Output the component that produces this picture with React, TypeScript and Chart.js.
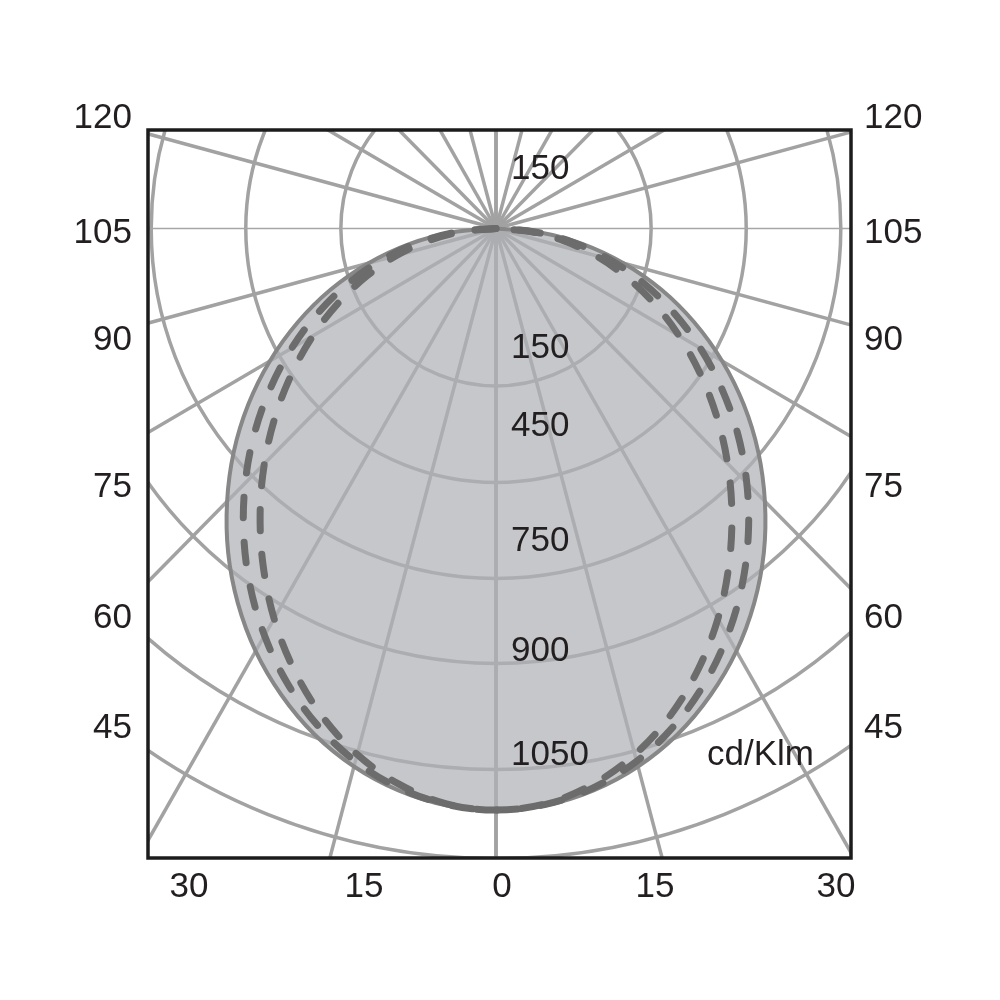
import React, { useEffect, useRef } from "react";
import { Chart, registerables } from "chart.js";

Chart.register(...registerables);

// Polar angles, degrees measured from the downward (0°) direction
const angleDeg = [0, 5, 10, 15, 20, 25, 30, 35, 40, 45, 50, 55, 60, 65, 70, 75, 80, 85, 90];
// Luminous intensity curves (chart units), symmetric left/right
const solidIntensity = [1163, 1158, 1141, 1114, 1077, 1030, 976, 914, 846, 772, 695, 614, 530, 444, 357, 268, 179, 90, 0];
const dashedOuterIntensity = [1163, 1156, 1136, 1103, 1058, 1003, 940, 871, 797, 720, 641, 560, 479, 398, 318, 238, 158, 79, 0];
const dashedInnerIntensity = [1163, 1155, 1129, 1089, 1036, 972, 901, 824, 745, 665, 585, 506, 429, 354, 280, 209, 138, 69, 0];

// Grid
const ringValues = [315, 508, 700, 870, 1082, 1260];
const rayAngles = [0, 15, 30, 45, 60, 75, 90, 105, 120, 135, 150, 165, 180];

// Texts
const ringLabels = ["150", "150", "450", "750", "900", "1050"];
const sideLabels = ["120", "105", "90", "75", "60", "45"];
const bottomLabels = ["30", "15", "0", "15", "30"];
const unitLabel = "cd/Klm";

// Layout (pixels)
const RING_LABEL_X = 511;
const RING_LABEL_BASE = [179, 358, 436, 551, 661, 765];
const SIDE_LABEL_BASE = [128, 243, 350, 497, 628, 738];
const LEFT_LABEL_RIGHT = 132;
const RIGHT_LABEL_LEFT = 864;
const BOTTOM_LABEL_X = [189, 364, 502, 655, 836];
const BOTTOM_LABEL_BASE = 897;
const UNIT_X = 707;
const UNIT_BASE = 765;

const FONT = '35px "Liberation Sans", Arial, sans-serif';
const TEXT_COLOR = "#231f20";

function polarPoints(values: number[]) {
  const pts: { x: number; y: number }[] = [];
  for (let i = values.length - 1; i >= 0; i--) {
    const a = (angleDeg[i] * Math.PI) / 180;
    pts.push({ x: -values[i] * Math.sin(a), y: -values[i] * Math.cos(a) });
  }
  for (let i = 1; i < values.length; i++) {
    const a = (angleDeg[i] * Math.PI) / 180;
    pts.push({ x: values[i] * Math.sin(a), y: -values[i] * Math.cos(a) });
  }
  return pts;
}

const gridPlugin = {
  id: "polarGrid",
  beforeDatasetsDraw(chart: any) {
    const { ctx, chartArea, scales } = chart;
    const xs = scales.x;
    const ys = scales.y;
    const cx = xs.getPixelForValue(0);
    const cy = ys.getPixelForValue(0);
    ctx.save();
    ctx.beginPath();
    ctx.rect(chartArea.left, chartArea.top, chartArea.right - chartArea.left, chartArea.bottom - chartArea.top);
    ctx.clip();
    ctx.strokeStyle = "#a2a2a2";
    ctx.lineWidth = 3.5;
    for (const R of ringValues) {
      const rx = Math.abs(xs.getPixelForValue(R) - cx);
      const ry = Math.abs(ys.getPixelForValue(-R) - cy);
      ctx.beginPath();
      ctx.ellipse(cx, cy, rx, ry, 0, 0, Math.PI * 2);
      ctx.stroke();
    }
    const L = 4000;
    for (const a of rayAngles) {
      const rad = (a * Math.PI) / 180;
      for (const side of [-1, 1]) {
        const ex = xs.getPixelForValue(side * L * Math.sin(rad));
        const ey = ys.getPixelForValue(-L * Math.cos(rad));
        ctx.beginPath();
        if (a === 90) {
          ctx.lineWidth = 1.5;
          ctx.strokeStyle = "#a6a6a6";
        } else {
          ctx.lineWidth = 3.5;
          ctx.strokeStyle = "#a2a2a2";
        }
        ctx.moveTo(cx, cy);
        ctx.lineTo(ex, ey);
        ctx.stroke();
      }
    }
    ctx.restore();
  },
  afterDatasetsDraw(chart: any) {
    const { ctx, chartArea } = chart;
    ctx.save();
    ctx.strokeStyle = "#1c1c1c";
    ctx.lineWidth = 3.5;
    ctx.strokeRect(chartArea.left, chartArea.top, chartArea.right - chartArea.left, chartArea.bottom - chartArea.top);

    ctx.fillStyle = TEXT_COLOR;
    ctx.font = FONT;
    ctx.textBaseline = "alphabetic";

    ctx.textAlign = "left";
    ringLabels.forEach((t, i) => ctx.fillText(t, RING_LABEL_X, RING_LABEL_BASE[i]));
    ctx.fillText(unitLabel, UNIT_X, UNIT_BASE);

    ctx.textAlign = "right";
    sideLabels.forEach((t, i) => ctx.fillText(t, LEFT_LABEL_RIGHT, SIDE_LABEL_BASE[i]));
    ctx.textAlign = "left";
    sideLabels.forEach((t, i) => ctx.fillText(t, RIGHT_LABEL_LEFT, SIDE_LABEL_BASE[i]));

    ctx.textAlign = "center";
    bottomLabels.forEach((t, i) => ctx.fillText(t, BOTTOM_LABEL_X[i], BOTTOM_LABEL_BASE));
    ctx.restore();
  },
};

export default function App() {
  const ref = useRef<HTMLCanvasElement>(null);
  useEffect(() => {
    if (!ref.current) return;
    const dashed = {
      showLine: true,
      borderColor: "#6c6c6c",
      borderWidth: 7,
      borderDash: [21, 24],
      borderCapStyle: "round",
      borderJoinStyle: "round",
      pointRadius: 0,
      pointHoverRadius: 0,
      tension: 0.35,
      fill: false,
    };
    const chart = new Chart(ref.current, {
      type: "scatter",
      data: {
        datasets: [
          { label: "dashed inner", data: polarPoints(dashedInnerIntensity), ...dashed, order: 1 },
          { label: "dashed outer", data: polarPoints(dashedOuterIntensity), ...dashed, order: 2 },
          {
            label: "solid",
            data: polarPoints(solidIntensity),
            showLine: true,
            borderColor: "#878787",
            borderWidth: 4,
            backgroundColor: "rgba(175,177,181,0.72)",
            pointRadius: 0,
            pointHoverRadius: 0,
            tension: 0.35,
            fill: "shape",
            order: 3,
          },
        ],
      } as any,
      options: {
        animation: false,
        responsive: false,
        devicePixelRatio: 1,
        events: [],
        layout: { padding: { left: 148, right: 149, top: 130, bottom: 142 } },
        scales: {
          x: { type: "linear", min: -706.5, max: 720.7, display: false },
          y: { type: "linear", min: -1259, max: 197, display: false },
        },
        plugins: {
          legend: { display: false },
          tooltip: { enabled: false },
        },
      } as any,
      plugins: [gridPlugin],
    });
    return () => chart.destroy();
  }, []);
  return (
    <div style={{ position: "absolute", left: 0, top: 0, width: 1000, height: 1000, background: "#fff" }}>
      <canvas ref={ref} width={1000} height={1000} style={{ display: "block", width: 1000, height: 1000 }} />
    </div>
  );
}
